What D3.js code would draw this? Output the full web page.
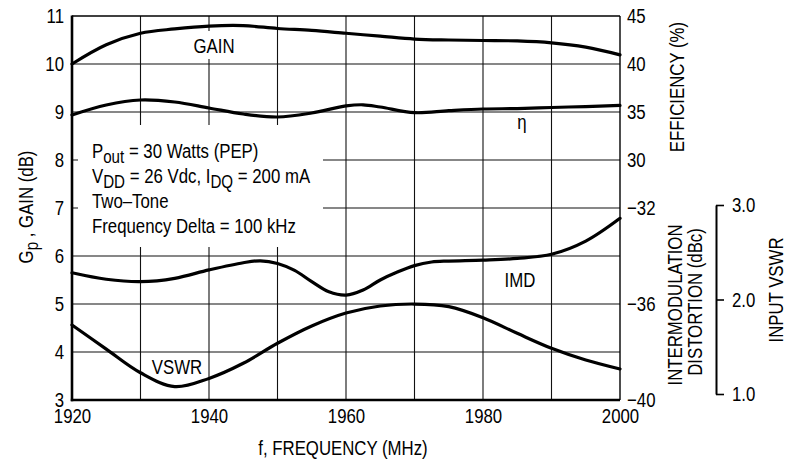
<!DOCTYPE html>
<html><head><meta charset="utf-8">
<script src="https://cdn.jsdelivr.net/npm/d3@7"></script>
<style>
body{margin:0;background:#fff}
text{font-family:"Liberation Sans",Arial,Helvetica,sans-serif;fill:#000}
</style>
</head><body>
<svg id="chart" width="790" height="463"></svg>
<script>
// ---------- data ----------
const gainFreq = [1920,1925,1930,1935,1940,1945,1950,1955,1960,1965,1970,1975,1980,1985,1990,1995,2000];
const gainDb = [10.00,10.40,10.64,10.73,10.79,10.80,10.74,10.70,10.64,10.58,10.52,10.50,10.49,10.48,10.44,10.35,10.19];
const effFreq = [1920,1925,1930,1935,1940,1945,1950,1955,1960,1962.5,1965,1970,1975,1980,1985,1990,1995,2000];
const efficiencyPct = [34.69,35.73,36.25,36.04,35.42,34.79,34.48,34.90,35.63,35.75,35.52,34.93,35.14,35.31,35.36,35.47,35.57,35.68];
const imdFreq = [1920,1925,1930,1935,1940,1945,1947.5,1950,1952.5,1955,1957.5,1960,1962.5,1965,1967.5,1970,1972.5,1975,1980,1985,1990,1995,2000];
const imdDbc = [-34.70,-34.97,-35.07,-34.93,-34.58,-34.28,-34.20,-34.31,-34.60,-35.07,-35.49,-35.63,-35.42,-35.00,-34.67,-34.40,-34.25,-34.21,-34.17,-34.10,-33.93,-33.38,-32.43];
const vswrFreq = [1920,1925,1930,1935,1940,1945,1950,1955,1960,1965,1970,1975,1980,1985,1990,1995,2000];
const inputVswr = [1.73,1.475,1.225,1.078,1.165,1.325,1.537,1.720,1.857,1.931,1.952,1.924,1.807,1.642,1.484,1.360,1.265];

const xTickLabels = [1920,1940,1960,1980,2000];
const xGrid = [1930,1940,1950,1960,1970,1980,1990];
const gainTicks = [3,4,5,6,7,8,9,10,11];
const effTicks = [30,35,40,45];
const imdTicks = [-40,-36,-32];
const vswrTicks = [1.0,2.0,3.0];
const noteLines = [
  [["P",""],["out","sub"],[" = 30 Watts (PEP)",""]],
  [["V",""],["DD","sub"],[" = 26 Vdc, I",""],["DQ","sub"],[" = 200 mA",""]],
  [["Two\u2013Tone",""]],
  [["Frequency Delta = 100 kHz",""]]
];

// ---------- layout ----------
const FS = 21, SX = 0.8; // condensed Helvetica look
const svg = d3.select("#chart");
const x = d3.scaleLinear().domain([1920,2000]).range([72,620]);
const yG = d3.scaleLinear().domain([3,11]).range([400,16]);
const yE = d3.scaleLinear().domain([30,45]).range([160,16]);
const yI = d3.scaleLinear().domain([-40,-32]).range([400,208]);
const yV = d3.scaleLinear().domain([1,3]).range([394,205]);

// gridlines
const grid = svg.append("g").attr("stroke","#111").attr("stroke-width",1.1);
grid.selectAll(".v").data(xGrid).join("line")
  .attr("x1",d=>x(d)).attr("x2",d=>x(d)).attr("y1",yG(11)).attr("y2",yG(3));
grid.selectAll(".h").data(gainTicks.filter(d=>d>3&&d<11)).join("line")
  .attr("x1",x(1920)).attr("x2",x(2000)).attr("y1",d=>yG(d)).attr("y2",d=>yG(d));

// white masks (annotation box & GAIN label)
svg.append("rect").attr("x",78).attr("y",125).attr("width",245).attr("height",122).attr("fill","#fff");
svg.append("rect").attr("x",188).attr("y",31).attr("width",52).attr("height",28).attr("fill","#fff");

// frame
svg.append("line").attr("x1",x(1920)).attr("x2",x(2000)).attr("y1",yG(11)).attr("y2",yG(11)).attr("stroke","#000").attr("stroke-width",1.4);
svg.append("line").attr("x1",x(2000)).attr("x2",x(2000)).attr("y1",yG(11)).attr("y2",yG(3)).attr("stroke","#000").attr("stroke-width",1.4);
svg.append("line").attr("x1",x(1920)).attr("x2",x(1920)).attr("y1",yG(11)-0.5).attr("y2",yG(3)+1.2).attr("stroke","#000").attr("stroke-width",2.6);
svg.append("line").attr("x1",x(1920)-1.2).attr("x2",x(2000)).attr("y1",yG(3)).attr("y2",yG(3)).attr("stroke","#000").attr("stroke-width",2.6);

// curves
const curve = d3.curveCatmullRom.alpha(0.5);
function drawSeries(fr, vals, scale){
  const line = d3.line().x((d,i)=>x(fr[i])).y(d=>scale(d)).curve(curve);
  svg.append("path").datum(vals).attr("d",line).attr("fill","none")
    .attr("stroke","#000").attr("stroke-width",3.2).attr("stroke-linejoin","round").attr("stroke-linecap","round");
}
drawSeries(gainFreq, gainDb, yG);
drawSeries(effFreq, efficiencyPct, yE);
drawSeries(imdFreq, imdDbc, yI);
drawSeries(vswrFreq, inputVswr, yV);

// axes helper
function styleAxis(g, keepDomain){
  g.attr("font-size",FS).attr("font-family",null);
  if(!keepDomain) g.select(".domain").remove();
  g.selectAll("text").attr("transform",`scale(${SX},1)`).attr("fill","#000");
  g.selectAll(".tick line").attr("stroke","#000").attr("stroke-width",1.6);
}
const minus = d=> (d<0?"\u2212":"")+Math.abs(d);
svg.append("g").attr("transform",`translate(${x(1920)},0)`)
  .call(d3.axisLeft(yG).tickValues(gainTicks).tickSize(0).tickPadding(10).tickFormat(d3.format("d")))
  .call(g=>styleAxis(g,false));
svg.append("g").attr("transform",`translate(0,${yG(3)})`)
  .call(d3.axisBottom(x).tickValues(xTickLabels).tickSize(0).tickPadding(8).tickFormat(d3.format("d")))
  .call(g=>styleAxis(g,false));
svg.append("g").attr("transform",`translate(${x(2000)},0)`)
  .call(d3.axisRight(yE).tickValues(effTicks).tickSize(0).tickPadding(8.75).tickFormat(d3.format("d")))
  .call(g=>styleAxis(g,false));
svg.append("g").attr("transform",`translate(${x(2000)},0)`)
  .call(d3.axisRight(yI).tickValues(imdTicks).tickSize(0).tickPadding(8.75).tickFormat(minus))
  .call(g=>styleAxis(g,false));
svg.append("g").attr("transform",`translate(716,0)`)
  .call(d3.axisRight(yV).tickValues(vswrTicks).tickSizeInner(8).tickSizeOuter(0).tickPadding(12).tickFormat(d3.format(".1f")))
  .call(g=>{styleAxis(g,true); g.select(".domain").attr("stroke","#000").attr("stroke-width",2);});

// text helper
function label(px, py, parts, anchor, rot){
  const t = svg.append("text")
    .attr("transform",`translate(${px},${py})${rot?" rotate(-90)":""} scale(${SX},1)`)
    .attr("font-size",FS).attr("text-anchor",anchor||"start");
  let sub=false;
  parts.forEach(([s,k])=>{
    const ts=t.append("tspan").text(s);
    if(k==="sub"&&!sub){ts.attr("dy",4.5).attr("font-size",FS*0.9);sub=true;}
    else if(k!=="sub"&&sub){ts.attr("dy",-4.5);sub=false;}
    else if(k==="sub") ts.attr("font-size",FS*0.9);
  });
  return t;
}
// curve labels
label(214,53,[["GAIN",""]],"middle");
label(522,129,[["\u03b7",""]],"middle");
label(520,287,[["IMD",""]],"middle");
label(177,374,[["VSWR",""]],"middle");
// annotation
noteLines.forEach((ln,i)=>label(92,158+25*i,ln,"start"));
// axis titles
label(343,455,[["f, FREQUENCY (MHz)",""]],"middle");
label(33,207,[["G",""],["p","sub"],[" , GAIN (dB)",""]],"middle",true);
label(684,87,[["EFFICIENCY (%)",""]],"middle",true);
label(682,305,[["INTERMODULATION",""]],"middle",true);
label(702,302,[["DISTORTION (dBc)",""]],"middle",true);
label(783,290,[["INPUT VSWR",""]],"middle",true);
</script>
</body></html>
